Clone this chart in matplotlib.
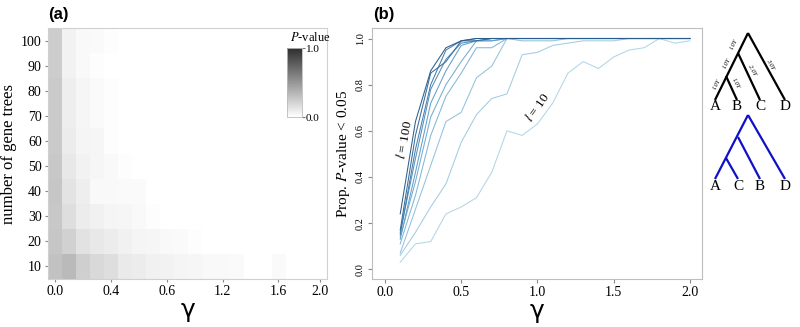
import matplotlib
matplotlib.use("Agg")
import matplotlib.pyplot as plt
import numpy as np
from matplotlib.colors import LinearSegmentedColormap

plt.rcParams["font.family"] = ["Liberation Serif", "DejaVu Serif"]
plt.rcParams["mathtext.fontset"] = "stix"

# (a) heatmap data: rows = number of gene trees, columns = gamma cells
gene_trees = [10, 20, 30, 40, 50, 60, 70, 80, 90, 100]
heat_xtick_idx = [0, 4, 8, 12, 16, 19]
heat_xtick_lab = ["0.0", "0.4", "0.6", "1.2", "1.6", "2.0"]
pval = np.array([
    [0.29, 0.33, 0.23, 0.18, 0.16, 0.10, 0.09, 0.07, 0.06, 0.05, 0.04, 0.03, 0.03, 0.02, 0.00, 0.00, 0.02, 0.00, 0.00, 0.00],
    [0.27, 0.22, 0.14, 0.11, 0.09, 0.07, 0.05, 0.04, 0.03, 0.02, 0.01, 0.00, 0.00, 0.00, 0.00, 0.00, 0.00, 0.00, 0.00, 0.00],
    [0.26, 0.16, 0.09, 0.07, 0.05, 0.04, 0.03, 0.01, 0.00, 0.00, 0.00, 0.00, 0.00, 0.00, 0.00, 0.00, 0.00, 0.00, 0.00, 0.00],
    [0.27, 0.13, 0.08, 0.03, 0.03, 0.02, 0.02, 0.00, 0.00, 0.00, 0.00, 0.00, 0.00, 0.00, 0.00, 0.00, 0.00, 0.00, 0.00, 0.00],
    [0.26, 0.11, 0.06, 0.04, 0.03, 0.01, 0.00, 0.00, 0.00, 0.00, 0.00, 0.00, 0.00, 0.00, 0.00, 0.00, 0.00, 0.00, 0.00, 0.00],
    [0.25, 0.09, 0.05, 0.04, 0.01, 0.00, 0.00, 0.00, 0.00, 0.00, 0.00, 0.00, 0.00, 0.00, 0.00, 0.00, 0.00, 0.00, 0.00, 0.00],
    [0.25, 0.08, 0.04, 0.02, 0.01, 0.00, 0.00, 0.00, 0.00, 0.00, 0.00, 0.00, 0.00, 0.00, 0.00, 0.00, 0.00, 0.00, 0.00, 0.00],
    [0.25, 0.08, 0.04, 0.02, 0.01, 0.00, 0.00, 0.00, 0.00, 0.00, 0.00, 0.00, 0.00, 0.00, 0.00, 0.00, 0.00, 0.00, 0.00, 0.00],
    [0.24, 0.06, 0.03, 0.01, 0.00, 0.00, 0.00, 0.00, 0.00, 0.00, 0.00, 0.00, 0.00, 0.00, 0.00, 0.00, 0.00, 0.00, 0.00, 0.00],
    [0.24, 0.06, 0.03, 0.02, 0.01, 0.00, 0.00, 0.00, 0.00, 0.00, 0.00, 0.00, 0.00, 0.00, 0.00, 0.00, 0.00, 0.00, 0.00, 0.00],
])

# (b) proportion of P-value < 0.05 per gamma, one list per l
gamma = [0.1, 0.2, 0.3, 0.4, 0.5, 0.6, 0.7, 0.8, 0.9, 1.0,
         1.1, 1.2, 1.3, 1.4, 1.5, 1.6, 1.7, 1.8, 1.9, 2.0]
l_vals = [10, 20, 30, 40, 50, 60, 70, 80, 90, 100]
prop_l10 = [0.03, 0.11, 0.12, 0.24, 0.27, 0.31, 0.42, 0.60, 0.58, 0.63, 0.72, 0.85, 0.90, 0.87, 0.92, 0.95, 0.96, 1.00, 0.98, 0.99]
prop_l20 = [0.06, 0.16, 0.27, 0.37, 0.55, 0.67, 0.74, 0.76, 0.93, 0.94, 0.97, 0.98, 0.99, 0.99, 0.99, 1.00, 1.00, 1.00, 1.00, 1.00]
prop_l30 = [0.07, 0.26, 0.45, 0.64, 0.68, 0.83, 0.88, 1.00, 0.99, 0.99, 0.99, 1.00, 1.00, 1.00, 1.00, 1.00, 1.00, 1.00, 1.00, 1.00]
prop_l40 = [0.11, 0.32, 0.58, 0.75, 0.85, 0.96, 0.96, 1.00, 1.00, 1.00, 1.00, 1.00, 1.00, 1.00, 1.00, 1.00, 1.00, 1.00, 1.00, 1.00]
prop_l50 = [0.14, 0.38, 0.66, 0.80, 0.90, 0.99, 0.99, 1.00, 1.00, 1.00, 1.00, 1.00, 1.00, 1.00, 1.00, 1.00, 1.00, 1.00, 1.00, 1.00]
prop_l60 = [0.13, 0.42, 0.72, 0.86, 0.97, 0.99, 0.99, 1.00, 1.00, 1.00, 1.00, 1.00, 1.00, 1.00, 1.00, 1.00, 1.00, 1.00, 1.00, 1.00]
prop_l70 = [0.16, 0.48, 0.78, 0.91, 0.98, 0.99, 1.00, 1.00, 1.00, 1.00, 1.00, 1.00, 1.00, 1.00, 1.00, 1.00, 1.00, 1.00, 1.00, 1.00]
prop_l80 = [0.15, 0.52, 0.80, 0.95, 0.99, 1.00, 1.00, 1.00, 1.00, 1.00, 1.00, 1.00, 1.00, 1.00, 1.00, 1.00, 1.00, 1.00, 1.00, 1.00]
prop_l90 = [0.17, 0.58, 0.85, 0.90, 0.99, 0.99, 1.00, 1.00, 1.00, 1.00, 1.00, 1.00, 1.00, 1.00, 1.00, 1.00, 1.00, 1.00, 1.00, 1.00]
prop_l100 = [0.24, 0.64, 0.86, 0.96, 0.99, 1.00, 1.00, 1.00, 1.00, 1.00, 1.00, 1.00, 1.00, 1.00, 1.00, 1.00, 1.00, 1.00, 1.00, 1.00]
props = [prop_l10, prop_l20, prop_l30, prop_l40, prop_l50,
         prop_l60, prop_l70, prop_l80, prop_l90, prop_l100]

# species tree / gene tree (node positions in figure pixels)
sp_edges = [((748, 33), (715, 100)), ((748, 33), (785, 100)),
            ((738, 53), (760, 100)), ((726, 76), (737, 100))]
sp_leaves = [("A", 715), ("B", 737), ("C", 760), ("D", 785)]
sp_branch = [("1.0Y", 734, 44, 63), ("1.0Y", 727, 63, 63), ("1.0Y", 717, 84, 63),
             ("1.0Y", 736, 83, -63), ("2.0Y", 752, 70, -61), ("3.0Y", 770, 64, -61)]
gt_edges = [((748, 115), (715, 179)), ((748, 115), (785, 179)),
            ((738, 137), (760, 179)), ((726, 158), (738, 179))]
gt_leaves = [("A", 715), ("C", 738), ("B", 760), ("D", 785)]

grey = "#bdbdbd"
fig = plt.figure(figsize=(8, 3.27), dpi=100)

# ---- (a)
ax1 = fig.add_axes([0.06, 0.147, 0.349, 0.767])
cmap = LinearSegmentedColormap.from_list("pv", ["#ffffff", "#2e2e2e"])
ax1.imshow(pval, cmap=cmap, vmin=0, vmax=1, origin="lower", aspect="auto",
           interpolation="nearest")
ax1.set_xticks(heat_xtick_idx)
ax1.set_xticklabels(heat_xtick_lab)
ax1.set_yticks(range(len(gene_trees)))
ax1.set_yticklabels(gene_trees)
ax1.tick_params(labelsize=10, length=2.5, color="#888888", pad=2)
for s in ax1.spines.values():
    s.set_color("#d0d0d0")
ax1.set_xlabel("γ", family="DejaVu Sans", fontsize=18, labelpad=0)
ax1.set_ylabel("number of gene trees", fontsize=12, labelpad=3)
fig.text(0.06, 0.955, "(a)", family="Liberation Sans", weight="bold", fontsize=12,
         va="center")

cax = fig.add_axes([0.359, 0.642, 0.019, 0.211])
cb = fig.colorbar(ax1.images[0], cax=cax, ticks=[0, 1])
cb.ax.set_yticklabels(["0.0", "1.0"])
cb.ax.tick_params(labelsize=8, length=2, pad=0.5, color="#777777")
cb.outline.set_edgecolor("#bbbbbb")
cb.outline.set_linewidth(0.6)
fig.text(0.388, 0.885, "$P$-value", fontsize=9, ha="center", va="center")

# ---- (b)
ax2 = fig.add_axes([0.465, 0.147, 0.4125, 0.767])
lcmap = LinearSegmentedColormap.from_list("bl", ["#b2d6e6", "#6aa8cf", "#2b5d8c"])
for i, (lv, pr) in enumerate(zip(l_vals, props)):
    ax2.plot(gamma, pr, color=lcmap(i / (len(l_vals) - 1)), lw=0.75)
ax2.set_xlim(-0.085, 2.079)
ax2.set_ylim(-0.042, 1.045)
ax2.set_xticks([0.0, 0.5, 1.0, 1.5, 2.0])
ax2.set_xticklabels(["0.0", "0.5", "1.0", "1.5", "2.0"])
ax2.set_yticks([0.0, 0.2, 0.4, 0.6, 0.8, 1.0])
ax2.set_yticklabels(["0.0", "0.2", "0.4", "0.6", "0.8", "1.0"], rotation=90,
                    va="center")
ax2.tick_params(axis="x", labelsize=10, length=3, color="#888888", pad=2)
ax2.tick_params(axis="y", labelsize=7.5, length=3, color="#888888", pad=2)
for s in ax2.spines.values():
    s.set_color(grey)
ax2.set_xlabel("γ", family="DejaVu Sans", fontsize=18, labelpad=0)
ax2.set_ylabel("Prop. $P$-value < 0.05", fontsize=11, labelpad=3)
ax2.text(0.13, 0.56, "$l$ = 100", rotation=80, fontsize=9.5, ha="center", va="center")
ax2.text(1.0, 0.70, "$l$ = 10", rotation=55, fontsize=9.5, ha="center", va="center")
fig.text(0.467, 0.955, "(b)", family="Liberation Sans", weight="bold", fontsize=12,
         va="center")

# ---- trees
axt = fig.add_axes([0, 0, 1, 1], facecolor="none")
axt.set_xlim(0, 800)
axt.set_ylim(327, 0)
axt.axis("off")
for (p, q) in sp_edges:
    axt.plot([p[0], q[0]], [p[1], q[1]], color="black", lw=1.6, solid_capstyle="butt")
for name, x in sp_leaves:
    axt.text(x, 107, name, fontsize=11, ha="center", va="center")
for lab, x, y, r in sp_branch:
    axt.text(x, y, lab, fontsize=4.5, style="italic", rotation=r, ha="center", va="center")
for (p, q) in gt_edges:
    axt.plot([p[0], q[0]], [p[1], q[1]], color="#1010c8", lw=1.6, solid_capstyle="butt")
for name, x in gt_leaves:
    axt.text(x, 186, name, fontsize=11, ha="center", va="center")

fig.savefig("out.png", dpi=100)
